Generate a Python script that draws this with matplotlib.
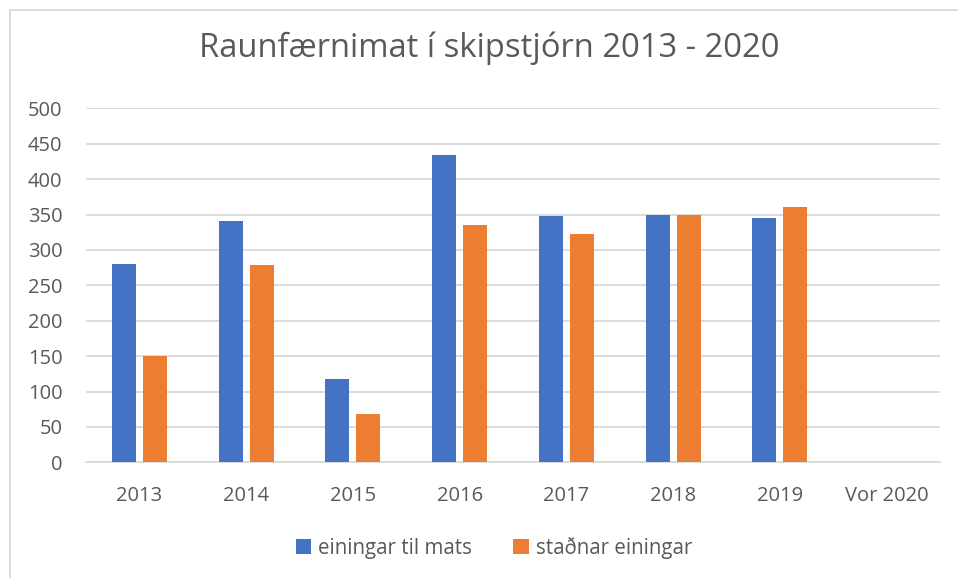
import numpy as np
import matplotlib
matplotlib.use("Agg")
import matplotlib.pyplot as plt
from matplotlib.patches import Rectangle

# data
years = ["2013", "2014", "2015", "2016", "2017", "2018", "2019", "Vor 2020"]
til_mats = [280, 341, 117, 434, 348, 350, 345, np.nan]
stadnar = [150, 278, 68, 335, 323, 350, 360, np.nan]
series_names = ["einingar til mats", "staðnar einingar"]
yticks = list(range(0, 501, 50))

blue = "#4472c4"
orange = "#ed7d31"
txt = "#595959"
grid = "#d9d9d9"

plt.rcParams["font.family"] = ["Open Sans", "DejaVu Sans"]

W, H = 958, 578
fig = plt.figure(figsize=(W / 100, H / 100), dpi=100)
fig.patch.set_facecolor("white")

# outer chart border (left/top visible, rest cut off)
fig.patches.append(Rectangle((10 / W, -0.05), 1.2, 1 - 10 / H + 0.05,
                             transform=fig.transFigure, fill=False,
                             edgecolor="#d9d9d9", linewidth=1.3))

ax = fig.add_axes([86 / W, 1 - 462.3 / H, (940 - 86) / W, (462.3 - 108.3) / H])

x = np.arange(len(years))
bw = 0.224
off = 0.145
ax.bar(x - off, til_mats, bw, color=blue, label=series_names[0], zorder=3)
ax.bar(x + off, stadnar, bw, color=orange, label=series_names[1], zorder=3)

ax.set_xlim(-0.5, len(years) - 0.5)
ax.set_ylim(0, 500)
ax.set_yticks(yticks)
ax.set_xticks(x)
ax.set_xticklabels(years)
ax.yaxis.grid(True, color=grid, linewidth=1.3, zorder=0)
ax.set_axisbelow(True)
for s in ["top", "right", "left"]:
    ax.spines[s].set_visible(False)
ax.spines["bottom"].set_color(grid)
ax.spines["bottom"].set_linewidth(1.3)
ax.tick_params(axis="both", length=0, labelsize=14.5, colors=txt)
ax.tick_params(axis="y", pad=17)
ax.tick_params(axis="x", pad=17)

fig.text(0.5 * (200 + 778) / W, 1 - 48 / H, "Raunfærnimat í skipstjórn 2013 - 2020",
         ha="center", va="center", fontsize=23.6, color=txt)

leg = fig.legend(loc="center", bbox_to_anchor=(494 / W, 1 - 548 / H), ncol=2,
                 frameon=False, fontsize=14.8, handlelength=0.75, handleheight=0.75,
                 handletextpad=0.35, columnspacing=2.0, labelcolor=txt)

fig.savefig("out.png", dpi=100)
